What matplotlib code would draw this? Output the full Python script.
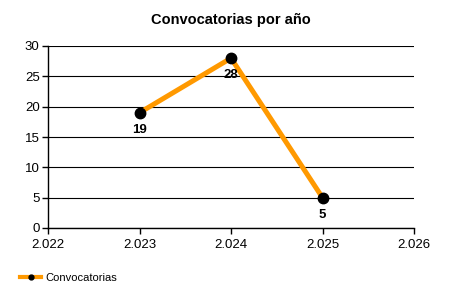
import matplotlib
matplotlib.use("Agg")
import matplotlib.pyplot as plt

plt.rcParams['font.family'] = ['Liberation Sans', 'DejaVu Sans']

years = [2023, 2024, 2025]
counts = [19, 28, 5]
x_ticks = [2022, 2023, 2024, 2025, 2026]
x_labels = ["2.022", "2.023", "2.024", "2.025", "2.026"]
y_ticks = [0, 5, 10, 15, 20, 25, 30]

fig = plt.figure(figsize=(4.5, 3), dpi=100)
ax = fig.add_axes([48 / 450, 1 - 228 / 300, 366 / 450, 182 / 300])

line, = ax.plot(years, counts, color='#FF9900', linewidth=3.6, marker='o',
                markersize=7.5, markerfacecolor='black', markeredgecolor='black',
                label='Convocatorias', zorder=3, clip_on=False)

for x, y in zip(years, counts):
    ax.annotate(str(y), (x, y), xytext=(0, -8), textcoords='offset points',
                ha='center', va='top', fontsize=9.5, fontweight='bold', zorder=4)

ax.set_xlim(2022, 2026)
ax.set_ylim(0, 30)
ax.set_xticks(x_ticks)
ax.set_xticklabels(x_labels)
ax.set_yticks(y_ticks)
ax.tick_params(labelsize=9.5, length=4, width=1, color='black', pad=2)
ax.tick_params(axis='x', pad=4)
ax.yaxis.grid(True, color='black', linewidth=0.8)
ax.set_axisbelow(True)
for s in ['top', 'right']:
    ax.spines[s].set_visible(False)
for s in ['left', 'bottom']:
    ax.spines[s].set_linewidth(1)

ax.set_title("Convocatorias por año", fontsize=10.5, fontweight='bold', pad=16)

leg_line = plt.Line2D([], [], color='#FF9900', linewidth=3, marker='o',
                      markersize=3.5, markerfacecolor='black', markeredgecolor='black')
fig.legend([leg_line], ['Convocatorias'], loc='center left',
           bbox_to_anchor=(0.045, 1 - 278 / 300), frameon=False, fontsize=8,
           handlelength=1.9, handletextpad=0.4, borderaxespad=0, borderpad=0)

fig.savefig("out.png", dpi=100)
